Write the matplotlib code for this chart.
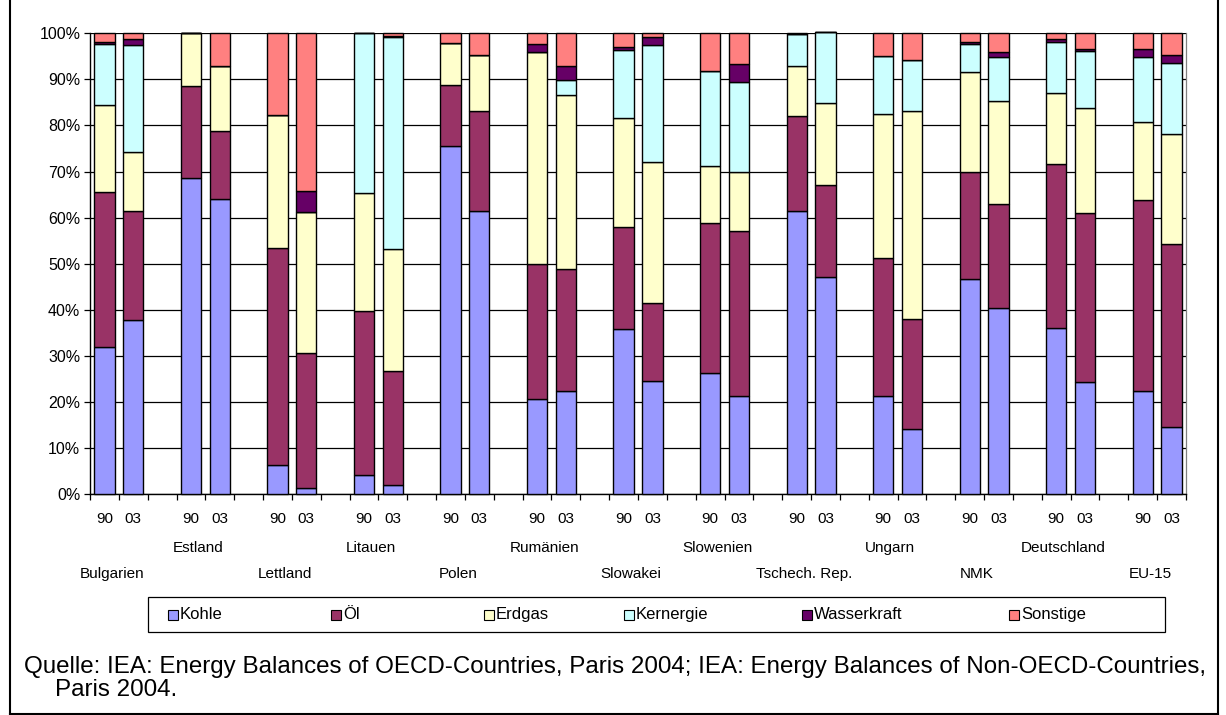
import matplotlib
matplotlib.use("Agg")
import matplotlib.pyplot as plt
import matplotlib.transforms as mtransforms
import numpy as np
from matplotlib.patches import Rectangle
from matplotlib.lines import Line2D

plt.rcParams['font.family'] = ['Liberation Sans', 'DejaVu Sans']

countries = ["Bulgarien", "Estland", "Lettland", "Litauen", "Polen", "Rumänien",
             "Slowakei", "Slowenien", "Tschech. Rep.", "Ungarn", "NMK",
             "Deutschland", "EU-15"]
years = ["90", "03"]
series_names = ["Kohle", "Öl", "Erdgas", "Kernergie", "Wasserkraft", "Sonstige"]

# values per bar, order: country 90, country 03, ...
kohle = [32.0, 37.8, 68.6, 64.0, 6.3, 1.2, 4.1, 2.0, 75.5, 61.4, 20.6, 22.4,
         35.9, 24.5, 26.2, 21.3, 61.5, 47.2, 21.3, 14.1, 46.6, 40.4, 36.0, 24.4, 22.4, 14.5]
oel = [33.6, 23.6, 20.0, 14.9, 47.2, 29.3, 35.6, 24.6, 13.3, 21.7, 29.3, 26.5,
       22.0, 16.9, 32.6, 35.7, 20.6, 19.9, 29.9, 23.9, 23.4, 22.6, 35.6, 36.5, 41.4, 39.7]
erdgas = [18.8, 12.8, 11.4, 13.9, 28.8, 30.7, 25.6, 26.6, 9.0, 12.2, 46.1, 37.7,
          23.8, 30.6, 12.5, 12.9, 10.9, 17.8, 31.2, 45.2, 21.7, 22.3, 15.4, 22.8, 16.9, 23.9]
kern = [13.2, 23.3, 0.0, 0.0, 0.0, 0.0, 34.7, 45.9, 0.0, 0.0, 0.0, 3.3,
        14.7, 25.5, 20.5, 19.5, 6.8, 15.4, 12.7, 11.0, 6.0, 9.6, 11.1, 12.5, 14.2, 15.4]
wasser = [0.6, 1.3, 0.0, 0.0, 0.0, 4.6, 0.0, 0.4, 0.0, 0.0, 1.7, 3.0,
          0.7, 1.6, 0.0, 3.9, 0.1, 0.0, 0.0, 0.0, 0.4, 1.0, 0.7, 0.4, 1.8, 1.7]
sonstige = [1.8, 1.2, 0.0, 7.2, 17.7, 34.2, 0.0, 0.5, 2.2, 4.7, 2.3, 7.1,
            2.9, 0.9, 8.2, 6.7, 0.1, 0.0, 4.9, 5.8, 1.9, 4.1, 1.2, 3.4, 3.3, 4.8]

colors = ["#9999FF", "#993366", "#FFFFCC", "#CCFFFF", "#660066", "#FF8080"]

W, H = 1226, 715
fig = plt.figure(figsize=(W / 100, H / 100), dpi=100)
ax = fig.add_axes([90 / W, 1 - 494 / H, (1186 - 90) / W, (494 - 33.3) / H])

n = len(countries)
xpos = []
for c in range(n):
    xpos += [3 * c + 0.5, 3 * c + 1.5]
xpos = np.array(xpos)

data = [kohle, oel, erdgas, kern, wasser, sonstige]
bottom = np.zeros(len(xpos))
for vals, col, name in zip(data, colors, series_names):
    v = np.array(vals)
    ax.bar(xpos, v, bottom=bottom, width=0.7, color=col, edgecolor="black",
           linewidth=1.0, zorder=3, clip_on=False, label=name)
    bottom += v

ax.set_xlim(0, 3 * n - 1)
ax.set_ylim(0, 100)
ax.set_yticks(np.arange(0, 101, 10))
ax.set_yticklabels([f"{t}%" for t in range(0, 101, 10)], fontsize=11.5)
ax.yaxis.grid(True, color="black", linewidth=0.9, zorder=0)
ax.tick_params(axis="y", length=4, width=0.9, pad=3, direction="out")

ax.set_xticks(xpos)
ax.set_xticklabels(years * n, fontsize=11)
ax.tick_params(axis="x", which="major", length=0, pad=13)
ax.set_xticks(np.arange(0, 3 * n), minor=True)
ax.tick_params(axis="x", which="minor", length=4, width=0.9, direction="out")

for s in ["left", "bottom"]:
    ax.spines[s].set_color("black")
    ax.spines[s].set_linewidth(1.0)
ax.spines["top"].set_visible(False)
ax.spines["right"].set_color("#808080")
ax.spines["right"].set_linewidth(0.9)

# country labels in two rows
blend = mtransforms.blended_transform_factory(ax.transData, fig.transFigure)
for c, name in enumerate(countries):
    xc = 3 * c + 1.0 - 0.25
    yrow = 548 if c % 2 == 1 else 574
    ax.text(xc, 1 - yrow / H, name, transform=blend, ha="center", va="center",
            fontsize=11)

# legend (drawn manually to match the column positions)
fig.add_artist(Rectangle((148 / W, 1 - 632 / H), (1165 - 148) / W, 35 / H,
                         transform=fig.transFigure, facecolor="white",
                         edgecolor="black", linewidth=0.9))
leg_x = [168, 331, 484, 624, 802, 1009]
leg_y = 614.5
sq = 10
for lx, col, name in zip(leg_x, colors, series_names):
    fig.add_artist(Rectangle((lx / W, 1 - (leg_y + sq / 2) / H), sq / W, sq / H,
                             transform=fig.transFigure, facecolor=col,
                             edgecolor="black", linewidth=0.8))
    fig.text((lx + sq + 2) / W, 1 - leg_y / H, name, ha="left", va="center",
             fontsize=12)

fig.text(24 / W, 1 - 667 / H,
         "Quelle: IEA: Energy Balances of OECD-Countries, Paris 2004; IEA: Energy Balances of Non-OECD-Countries,",
         ha="left", va="center", fontsize=17.4)
fig.text(55 / W, 1 - 690 / H, "Paris 2004.", ha="left", va="center", fontsize=17.4)

# outer frame
fig.add_artist(Line2D([9.5 / W, 9.5 / W], [0, 1], transform=fig.transFigure, color="black", lw=1.5))
fig.add_artist(Line2D([1217.5 / W, 1217.5 / W], [0, 1], transform=fig.transFigure, color="black", lw=1.5))
fig.add_artist(Line2D([9.5 / W, 1217.5 / W], [1 - 713.5 / H, 1 - 713.5 / H], transform=fig.transFigure, color="black", lw=1.5))

fig.savefig("out.png", dpi=100)
